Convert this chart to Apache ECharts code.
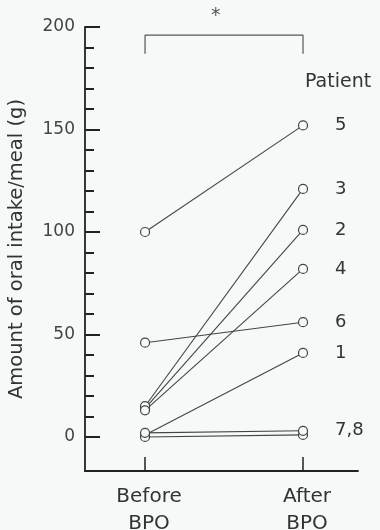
<!DOCTYPE html>
<html><head><meta charset="utf-8">
<script src="https://cdn.jsdelivr.net/npm/echarts@6/dist/echarts.min.js"></script>
<style>html,body{margin:0;padding:0;background:#f7f9f9;}#c{width:380px;height:530px;}</style>
</head><body><div id="c"></div>
<script>
const patients = ['1','2','3','4','5','6','7','8'];
const beforeBPO = [1, 14, 15, 13, 100, 46, 0, 2];
const afterBPO = [41, 101, 121, 82, 152, 56, 1, 3];
const patientLabels = ['1','2','3','4','5','6','','7,8'];
const xCategories = ['Before\nBPO', 'After\nBPO'];
const yMajorTicks = [0, 50, 100, 150, 200];
const yMinorTicks = [10, 20, 30, 40, 60, 70, 80, 90, 110, 120, 130, 140, 160, 170, 180, 190];
const bracketY = [187, 196];

const FONT = 'DejaVu Sans';
const chart = echarts.init(document.getElementById('c'));
const series = patients.map((p, i) => ({
  type: 'line',
  data: [[0, beforeBPO[i]], [1, afterBPO[i]]],
  symbol: 'circle', symbolSize: 9, showSymbol: true,
  itemStyle: { color: '#f7f9f9', borderColor: '#444', borderWidth: 1.2 },
  lineStyle: { color: '#444', width: 1.1 },
  animation: false,
  label: {
    show: true,
    formatter: (prm) => prm.dataIndex === 1 ? patientLabels[i] : '',
    position: 'right', distance: 27,
    fontFamily: FONT, fontSize: 18, color: '#333'
  },
  z: 3
}));
series.push({
  type: 'line',
  data: [[0, bracketY[0]], [0, bracketY[1]], [1, bracketY[1]], [1, bracketY[0]]],
  symbol: 'none', lineStyle: { color: '#555', width: 1.2 }, animation: false
});
chart.setOption({
  backgroundColor: '#f7f9f9',
  grid: { left: 85, right: 22, top: 27, bottom: 59, outerBoundsMode: 'none', containLabel: false },
  xAxis: {
    type: 'value', min: -0.38, max: 1.348,
    axisLine: { show: true, onZero: false, lineStyle: { color: '#222', width: 1.8 } },
    axisTick: { show: true, inside: true, length: 14, customValues: [0, 1], lineStyle: { color: '#222', width: 1.5 } },
    axisLabel: { show: true, customValues: [0, 1], formatter: v => xCategories[Math.round(v)],
      fontFamily: FONT, fontSize: 20, color: '#333', margin: 12, lineHeight: 27, verticalAlign: 'top',
      padding: [0, 0, 0, 8] },
    splitLine: { show: false }
  },
  yAxis: [{
    type: 'value', min: -16.6, max: 200,
    name: 'Amount of oral intake/meal (g)', nameLocation: 'middle', nameGap: 58,
    nameTextStyle: { fontFamily: FONT, fontSize: 19.5, color: '#333' },
    axisLine: { show: true, onZero: false, lineStyle: { color: '#222', width: 1.8 } },
    axisTick: { show: true, inside: true, length: 15, customValues: yMajorTicks, lineStyle: { color: '#222', width: 2 } },
    axisLabel: { show: true, customValues: yMajorTicks, fontFamily: FONT, fontSize: 17, color: '#444', margin: 10 },
    splitLine: { show: false }
  }, {
    type: 'value', min: -16.6, max: 200, position: 'left', offset: 0,
    axisLine: { show: false, onZero: false },
    axisTick: { show: true, inside: true, length: 9, customValues: yMinorTicks, lineStyle: { color: '#222', width: 2 } },
    axisLabel: { show: false },
    splitLine: { show: false }
  }],
  graphic: [
    { type: 'text', left: 305, top: 73, style: { text: 'Patient', font: '19px ' + FONT, fill: '#333' } },
    { type: 'text', left: 211, top: 7, style: { text: '*', font: '19px ' + FONT, fill: '#555' } }
  ],
  series: series
});
</script></body></html>
